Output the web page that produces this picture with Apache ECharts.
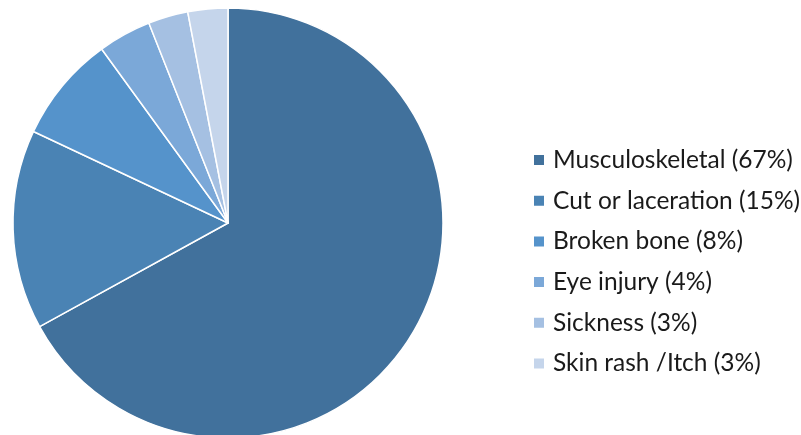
<!DOCTYPE html>
<html>
<head>
<meta charset="utf-8">
<script src="https://cdn.jsdelivr.net/npm/echarts@6/dist/echarts.min.js"></script>
<style>
  html, body { margin: 0; padding: 0; background: #fff; }
  #chart { width: 801px; height: 435px; }
</style>
</head>
<body>
<div id="chart"></div>
<script>
// Injury types and their share of cases (percent)
const categories = ['Musculoskeletal', 'Cut or laceration', 'Broken bone', 'Eye injury', 'Sickness', 'Skin rash /Itch'];
const shares = [67, 15, 8, 4, 3, 3];
const colors = ['#41719C', '#4A83B4', '#5593CB', '#7BA8D8', '#A5C0E2', '#C5D5EB'];

const chart = echarts.init(document.getElementById('chart'), null, { renderer: 'canvas' });

const pieData = categories.map((name, i) => ({
  name: name,
  value: shares[i],
  itemStyle: { color: colors[i] }
}));

chart.setOption({
  animation: false,
  legend: {
    orient: 'vertical',
    left: 532,
    top: 147.5,
    padding: 0,
    itemWidth: 12,
    itemHeight: 12,
    itemGap: 15.7,
    icon: 'rect',
    textStyle: {
      fontFamily: 'Lato',
      fontSize: 24.5,
      lineHeight: 24,
      color: '#1a1a1a',
      padding: [0, 0, 0, 3]
    },
    formatter: function (name) {
      const i = categories.indexOf(name);
      return name + ' (' + shares[i] + '%)';
    },
    data: categories
  },
  series: [{
    type: 'pie',
    center: [228, 223],
    radius: 215,
    startAngle: 90,
    clockwise: true,
    label: { show: false },
    labelLine: { show: false },
    emphasis: { disabled: true },
    itemStyle: { borderColor: '#fff', borderWidth: 1.5 },
    data: pieData
  }]
});
</script>
</body>
</html>
